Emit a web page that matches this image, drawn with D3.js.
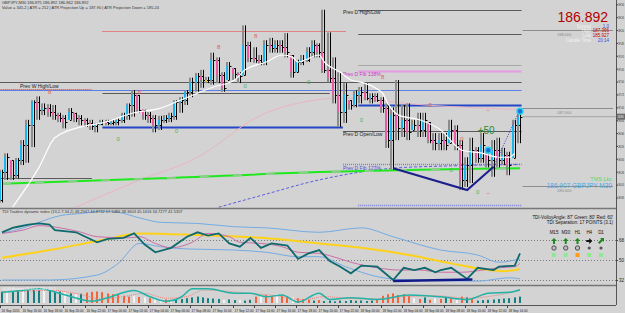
<!DOCTYPE html>
<html>
<head>
<meta charset="utf-8">
<script src="https://cdn.jsdelivr.net/npm/d3@7"></script>
<style>
  body { margin: 0; background: #d3d3d3; }
  svg { display: block; font-family: "Liberation Sans", Arial, sans-serif; }
</style>
</head>
<body>
<svg id="chart" width="625" height="313"></svg>
<script>
// GBPJPY M30 bars, 16 Sep 14:00 -> 18 Sep 15:00
const barHigh = [186.21,186.42,186.33,186.36,186.59,186.85,187.10,187.15,187.06,187.05,
  187.04,186.94,186.91,187.00,186.94,186.91,186.87,186.85,186.81,186.85,
  186.85,186.85,186.87,186.94,187.06,187.23,187.17,186.98,186.95,186.91,
  186.90,186.91,186.94,187.10,187.14,187.23,187.39,187.45,187.49,187.40,
  187.71,187.65,187.46,187.59,187.51,187.46,188.06,187.85,187.78,187.68,
  187.87,187.90,187.87,187.87,187.96,187.68,187.62,187.68,187.78,187.87,
  187.83,188.26,187.97,187.65,187.46,187.32,187.10,187.23,187.27,187.32,
  187.19,187.19,187.14,187.06,187.01,187.36,187.04,187.06,186.85,186.94,
  186.94,186.82,186.68,186.68,186.68,186.85,186.78,186.59,186.37,186.62,
  186.50,186.68,186.49,186.59,186.62,186.49,186.44,186.85,186.98];
const barLow = [185.79,186.08,186.08,186.10,186.27,186.30,186.50,186.85,186.91,186.89,
  186.85,186.82,186.74,186.85,186.82,186.78,186.76,186.72,186.69,186.78,
  186.78,186.78,186.78,186.81,186.85,186.89,186.94,186.85,186.81,186.69,
  186.72,186.81,186.82,186.85,186.94,187.04,187.14,187.21,187.26,187.32,
  187.30,187.32,187.21,187.36,187.36,187.32,187.42,187.59,187.58,187.55,
  187.55,187.71,187.71,187.71,187.65,187.39,187.46,187.55,187.59,187.65,
  187.65,187.45,187.33,187.06,186.76,186.81,186.98,187.01,187.06,187.10,
  187.06,187.08,186.94,186.49,186.21,186.59,186.63,186.59,186.72,186.63,
  186.63,186.55,186.46,186.46,186.46,186.55,186.46,185.95,185.99,186.04,
  186.30,186.30,186.24,186.12,186.24,186.27,186.14,186.36,186.55];
const barOpen = [185.82,186.18,186.33,186.14,186.33,186.53,186.78,187.08,186.98,187.00,
  186.95,186.91,186.87,186.85,186.94,186.87,186.85,186.81,186.77,186.79,
  186.82,186.81,186.82,186.85,186.91,187.04,187.17,186.98,186.91,186.87,
  186.78,186.85,186.87,186.90,187.08,187.10,187.21,187.33,187.41,187.36,
  187.36,187.62,187.42,187.36,187.51,187.44,187.42,187.81,187.64,187.62,
  187.59,187.81,187.77,187.81,187.78,187.68,187.46,187.59,187.62,187.72,
  187.81,187.72,187.49,187.39,187.17,186.95,187.10,187.04,187.17,187.21,
  187.13,187.15,187.10,187.00,186.59,186.91,186.74,186.85,186.72,186.78,
  186.72,186.82,186.59,186.55,186.59,186.55,186.72,186.53,186.08,186.27,
  186.46,186.36,186.49,186.33,186.46,186.33,186.40,186.36,186.78];
const barClose = [186.18,186.37,186.14,186.33,186.53,186.78,187.08,186.98,187.00,186.95,
  186.91,186.87,186.82,186.95,186.87,186.85,186.81,186.77,186.79,186.82,
  186.81,186.82,186.85,186.91,187.04,187.17,186.98,186.91,186.87,186.78,
  186.85,186.87,186.90,187.08,187.10,187.21,187.33,187.41,187.36,187.36,
  187.62,187.42,187.26,187.54,187.44,187.41,187.81,187.64,187.62,187.59,
  187.81,187.77,187.81,187.78,187.72,187.46,187.59,187.62,187.72,187.81,
  187.72,187.49,187.39,187.17,186.95,187.17,187.04,187.17,187.21,187.13,
  187.15,187.10,187.00,186.59,186.91,186.74,186.85,186.69,186.78,186.72,
  186.85,186.59,186.55,186.59,186.53,186.72,186.53,186.08,186.27,186.46,
  186.36,186.53,186.33,186.46,186.33,186.40,186.27,186.78,186.89];

const timeLabels = ["16 Sep 2015","16 Sep 16:00","16 Sep 18:00","16 Sep 20:00","16 Sep 22:00",
  "17 Sep 00:00","17 Sep 02:00","17 Sep 04:00","17 Sep 06:00","17 Sep 08:00","17 Sep 10:00",
  "17 Sep 12:00","17 Sep 14:00","17 Sep 16:00","17 Sep 18:00","17 Sep 20:00","17 Sep 22:00",
  "18 Sep 00:00","18 Sep 02:00","18 Sep 04:00","18 Sep 06:00","18 Sep 08:00","18 Sep 10:00",
  "18 Sep 12:00","18 Sep 14:00"];
const priceTicks = [188.330,188.165,188.000,187.835,187.670,187.505,187.340,187.175,
  187.010,186.845,186.680,186.515,186.350,186.185,186.020,185.855];

// moving averages on the price pane: [bar index, price]
const whiteMa = [[2,185.73],[7,186.24],[10,186.62],[15,186.76],[19,186.81],[25,186.94],[30,187.00],
  [33,187.08],[40,187.27],[44,187.36],[46,187.49],[50,187.59],[53,187.68],[55,187.65],[56,187.59],
  [60,187.68],[61,187.59],[64,187.46],[66,187.36],[68,187.33],[72,187.19],[73,187.06],[75,186.91],
  [79,186.85],[83,186.72],[87,186.46],[91,186.42],[94,186.37],[96,186.37],[97,186.42]];
const greenMa = [[0,186.03],[30,186.10],[60,186.18],[79,186.21],[98,186.23]];
const pinkMa = [[14,185.73],[25,186.05],[37,186.37],[49,186.91],[59,187.10],[64,187.13],[80,187.04],[98,186.98]];
const blueMa = [[41,185.73],[49,185.88],[60,186.08],[74,186.23],[85,186.26],[98,186.28]];
const trendLine = [[74,186.23],[88,185.95],[93,186.25]];
const trendProjection = [[93,186.25],[98,186.98]];

// support / resistance levels
const levelPrice = [188.26,187.99,187.95,187.55,187.48,187.33,187.24,187.23,187.19,187.04,186.76,186.71,186.28,186.10,185.76];
const levelFrom = [67.4,19,67.4,67.4,67.4,-0.5,-0.5,-0.5,19,67.4,19,64.5,64.5,-0.5,67.4];
const levelTo = [98.3,65,98.3,98.3,98.3,98.3,17,98.3,62,98.3,64.5,98.3,98.3,17,98.3];
const levelKind = ["dgray","reddot","dgray","lgray","fib","dgray","reddot","blue","dgray","bluethick","bluethick","dgray","fibdot","dgray","fibdot"];
const levelLabels = [["Prev D High/Low",64.5,188.24],["Prev W High/Low",3.4,187.30],["Prev D Fib 138%",64.5,187.45],
  ["Prev D Open/Low",64.5,186.68],["Prev D Fib 127%",64.5,186.25]];
const roundLevels = [188.0,187.0,186.0];

// swing markers: [bar index, price, glyph, colour group]
const swingMarks = [[9,187.21,"8","r"],[26,187.21,"8","r"],[41,187.78,"8","r"],[48,187.92,"8","r"],[72,187.40,"8","r"],
  [81,187.04,"0","r"],[87,186.60,"0","r"],[92,186.98,"–","r"],[92,185.91,"–","r"],
  [22,186.60,"0","g"],[33,186.71,"0","g"],[46,187.28,"0","g"],[58,187.33,"0","g"],[68,186.85,"0","g"],
  [85,186.21,"0","g"],[90,185.92,"0","g"]];

// TDI pane: [bar index, value]
const tdiRsi = [[0,75],[2,79],[3,80],[5,82],[7,83],[9,82],[10,77],[14,75],[18,66],[20,69],[23,70],[25,74],
  [27,64],[29,57],[32,61],[35,71],[37,75],[39,72],[41,74],[43,65],[45,62],[47,70],[49,61],[51,65],[54,63],
  [56,51],[58,56],[60,59],[62,49],[64,44],[66,38],[68,45],[71,44],[74,32],[76,43],[78,41],[80,43],[82,39],
  [83,41],[85,43],[88,33],[90,43],[93,41],[94,44],[97,45],[98,56]];
const tdiSignal = [[0,74],[4,77],[7,81],[11,79],[15,75],[18,71],[24,70],[26,71],[29,65],[32,61],[36,66],
  [39,74],[43,71],[45,66],[49,65],[53,62],[56,57],[60,56],[62,54],[66,48],[71,43],[75,41],[79,41],[83,39],
  [87,39],[91,41],[94,43],[97,44],[98,47]];
const tdiBase = [[0,52],[9,59],[19,68],[26,74],[37,72.5],[49,70],[60,65],[68,61],[77,54.5],[85,47],[92,41],[95,40],[98,42]];
const tdiUpper = [[0,74],[4,79],[7,84],[11,90],[15,92],[19,94],[22,93],[26,88],[30,84],[37,83],[44,80],[50,79],
  [60,75],[68,79],[74,71],[83,59],[90,54.5],[94,48],[97,50],[98,51]];
const tdiLower = [[0,32],[9,32],[18,36.5],[22,47],[26,65],[30,62],[35,60],[44,59],[50,57],[56,53],[60,53],
  [65,44],[71,35],[77,32],[90,31],[96,34],[98,33]];
const tdiDivergence = [[74,31],[89,32.5]];
const tdiLevels = [68,50,32];

const tfNames = ["M15","M30","H1","H4","D1"];
const tfTrend = ["up","up","up","flat","rise"];
const tfSignal = ["ring","ring","ring","dot","dot"];
const tfState = ["green","green","orange","green","green"];

// lower histogram pane
const histVals = [70,75,72,80,78,82,85,80,78,75, 70,72,65,60,55,58, 65,70,72,68,60,55,50,
  45,40,45,38,35,30, 25,20,22,18,20, 25,30,35,40,35,30,28, 25,20,22,18,20,15,20,
  40,45,50,45,55,50,40,35,30,25, 20,15,18,12,15,10, 15,12,18,14,16,12,15,20,
  45,55,60,50,55,45, 30,25,35,20,30,25,35,30,20,40,35,25, 15,18,20,22,25,28,30,35,40];
const histDir = [1,0,1,1,0,1,1,1,0,1, 1,1,0,1,0,1, -1,-1,-1,-1,-1,-1,-1,
  -1,-1,0,-1,0,-1, 0,0,-1,0,1, 1,1,1,1,1,1,1, 1,0,1,1,0,1,1,
  -1,0,-1,-1,0,-1,-1,0,-1,-1, -1,1,-1,1,1,1, 1,1,1,1,1,1,1,-1,
  -1,-1,-1,-1,-1,-1, 0,-1,1,-1,0,-1,1,-1,0,-1,1,-1, 1,1,1,1,1,1,1,1,1];
const histLine = [[0,67],[4,78],[7,89],[12,50],[17,11],[20,33],[25,78],[28,39],[31,11],[34,39],[36,89],
  [39,89],[44,61],[47,61],[50,39],[53,50],[56,6],[60,61],[62,22],[66,33],[71,22],[77,50],[83,39],[88,22],
  [92,61],[96,67],[98,83]];
const histSignal = [[0,70],[5,75],[9,80],[14,60],[19,25],[23,40],[27,60],[31,30],[35,40],[38,80],[42,75],
  [47,60],[52,45],[57,20],[61,40],[65,30],[70,25],[76,40],[82,45],[88,30],[93,45],[97,70],[98,78]];

class TradingChart {
    constructor(_config) {
        this.config = {
            parentElement: _config.parentElement,
            axisX: 616,
            mainBottom: 208,
            tdiTop: 209, tdiBottom: 285,
            histTop: 287, histBottom: 303,
            timeY: 305
        };
        this.initVis();
    }

    initVis() {
        let vis = this;
        vis.svg = d3.select(vis.config.parentElement);

        vis.x = d3.scaleLinear().domain([0, barHigh.length - 1]).range([2, 520]);
        vis.yPrice = d3.scaleLinear().domain([185.72, 188.385]).range([vis.config.mainBottom, 0]);
        vis.yTdi = d3.scaleLinear().domain([27.5, 96]).range([vis.config.tdiBottom, vis.config.tdiTop]);
        vis.yHist = d3.scaleLinear().domain([0, 100]).range([vis.config.histBottom, vis.config.histTop]);

        vis.bars = barHigh.map((h, i) => ({ i, h, l: barLow[i], o: barOpen[i], c: barClose[i] }));

        vis.renderMain();
        vis.renderTdi();
        vis.renderHist();
        vis.renderAxes();
        vis.renderInfo();
    }

    renderMain() {
        let vis = this;
        const x = vis.x, y = vis.yPrice;
        const g = vis.svg.append('g');

        // levels
        const levelStyle = {
            dgray: { stroke: '#5a5a5a', w: 1, dash: null },
            lgray: { stroke: '#a8a8a8', w: 1, dash: null },
            reddot: { stroke: '#e03a3a', w: 1, dash: '1,1' },
            blue: { stroke: '#5b7fe6', w: 1, dash: null },
            bluethick: { stroke: '#2447c8', w: 2, dash: null },
            fib: { stroke: '#e49be4', w: 2, dash: null },
            fibdot: { stroke: '#7a7ae6', w: 1.5, dash: '1,1' }
        };
        g.selectAll('line.level')
            .data(levelPrice)
            .join('line')
            .attr('class', 'level')
            .attr('x1', (d, i) => x(levelFrom[i]))
            .attr('x2', (d, i) => x(levelTo[i]))
            .attr('y1', d => Math.round(y(d)) + 0.5)
            .attr('y2', d => Math.round(y(d)) + 0.5)
            .attr('stroke', (d, i) => levelStyle[levelKind[i]].stroke)
            .attr('stroke-width', (d, i) => levelStyle[levelKind[i]].w)
            .attr('stroke-dasharray', (d, i) => levelStyle[levelKind[i]].dash);

        g.selectAll('text.lvl')
            .data(levelLabels)
            .join('text')
            .attr('x', d => x(d[1]))
            .attr('y', d => y(d[2]) + 3)
            .attr('font-size', 5)
            .attr('fill', d => d[0].includes('138') ? '#cc33cc' : (d[0].includes('127') ? '#4a4ad8' : '#222'))
            .text(d => d[0]);

        // round number lines at the right
        g.selectAll('line.round')
            .data(roundLevels)
            .join('line')
            .attr('x1', x(98.5)).attr('x2', vis.config.axisX - 3)
            .attr('y1', d => Math.round(y(d)) + 0.5).attr('y2', d => Math.round(y(d)) + 0.5)
            .attr('stroke', '#8c8c8c');
        g.selectAll('text.round')
            .data(roundLevels)
            .join('text')
            .attr('x', 557).attr('y', d => y(d) + 6)
            .attr('font-size', 4).attr('fill', '#8a8a8a')
            .text(d => d3.format('.3f')(d));

        // moving averages
        const line = d3.line().x(d => x(d[0])).y(d => y(d[1])).curve(d3.curveMonotoneX);
        g.append('path').attr('d', line(pinkMa)).attr('fill', 'none').attr('stroke', '#eab4c4').attr('stroke-width', 1);
        g.append('path').attr('d', line(blueMa)).attr('fill', 'none').attr('stroke', '#5d5de0')
            .attr('stroke-width', 1).attr('stroke-dasharray', '3,2');
        g.append('path').attr('d', line(greenMa)).attr('fill', 'none').attr('stroke', '#1fe81f').attr('stroke-width', 2);
        g.append('path').attr('d', line(greenMa)).attr('fill', 'none').attr('stroke', '#8ccf8c')
            .attr('stroke-width', 2).attr('stroke-dasharray', '9,24');

        // bars
        const bar = g.selectAll('g.bar')
            .data(vis.bars)
            .join('g')
            .attr('transform', d => `translate(${Math.round(x(d.i))},0)`);
        bar.append('rect')
            .attr('x', -3).attr('width', 2)
            .attr('y', d => y(d.h)).attr('height', d => y(d.l) - y(d.h))
            .attr('fill', '#8c8c8c');
        bar.append('rect')
            .attr('x', -3).attr('width', 2)
            .attr('y', d => y(Math.max(d.o, d.c)))
            .attr('height', d => Math.max(1.5, Math.abs(y(d.o) - y(d.c))))
            .attr('fill', d => d.c > d.o ? '#1db4ee' : (d.c < d.o ? '#ec5aa6' : '#f0e21c'));
        bar.append('line')
            .attr('x1', 0.5).attr('x2', 0.5)
            .attr('y1', d => y(d.h)).attr('y2', d => y(d.l))
            .attr('stroke', '#000');
        bar.append('line')
            .attr('x1', -1).attr('x2', 0.5)
            .attr('y1', d => Math.round(y(d.o)) + 0.5).attr('y2', d => Math.round(y(d.o)) + 0.5)
            .attr('stroke', '#000');
        bar.append('line')
            .attr('x1', 0.5).attr('x2', 2.5)
            .attr('y1', d => Math.round(y(d.c)) + 0.5).attr('y2', d => Math.round(y(d.c)) + 0.5)
            .attr('stroke', '#000');

        g.append('path').attr('d', line(whiteMa)).attr('fill', 'none').attr('stroke', '#ffffff').attr('stroke-width', 1.2);

        // trend line and projection
        const straight = d3.line().x(d => x(d[0])).y(d => y(d[1]));
        g.append('path').attr('d', straight(trendLine)).attr('fill', 'none').attr('stroke', '#1a1f8c').attr('stroke-width', 2);
        g.append('path').attr('d', straight(trendProjection)).attr('fill', 'none').attr('stroke', '#3b3bd8')
            .attr('stroke-width', 1).attr('stroke-dasharray', '1,1.5');
        g.selectAll('circle.pivot')
            .data([[92, 186.46], [98, 186.96]])
            .join('circle')
            .attr('cx', d => x(d[0])).attr('cy', d => y(d[1])).attr('r', 3)
            .attr('fill', '#1d6fd8').attr('stroke', '#27d3f0').attr('stroke-width', 1.5);

        // swing markers
        g.selectAll('text.mark')
            .data(swingMarks)
            .join('text')
            .attr('x', d => x(d[0])).attr('y', d => y(d[1]) + 2)
            .attr('text-anchor', 'middle').attr('font-size', 6)
            .attr('fill', d => d[3] === 'r' ? '#e05a5a' : '#55b055')
            .text(d => d[2]);

        g.append('text').attr('x', x(90)).attr('y', y(186.71) + 3)
            .attr('font-size', 10).attr('fill', '#2a8a2a').text('+50');
        g.append('text').attr('x', 612).attr('y', y(186.08) + 1.5).attr('text-anchor', 'end')
            .attr('font-size', 5.5).attr('fill', '#5fd35f').text('TMS Lkc');
        g.append('text').attr('x', 612).attr('y', y(185.99) + 1.5).attr('text-anchor', 'end')
            .attr('font-size', 6.5).attr('fill', '#4aa8e8').text('186.907 GBPJPY M30');
    }

    renderTdi() {
        let vis = this;
        const x = vis.x, y = vis.yTdi;
        const g = vis.svg.append('g');

        g.selectAll('line.tdilvl')
            .data(tdiLevels)
            .join('line')
            .attr('x1', 0).attr('x2', vis.config.axisX)
            .attr('y1', d => Math.round(y(d)) + 0.5).attr('y2', d => Math.round(y(d)) + 0.5)
            .attr('stroke', '#7a7a7a').attr('stroke-dasharray', '1,2');

        const line = d3.line().x(d => x(d[0])).y(d => y(d[1]));
        const smooth = d3.line().x(d => x(d[0])).y(d => y(d[1])).curve(d3.curveMonotoneX);
        g.append('path').attr('d', smooth(tdiUpper)).attr('fill', 'none').attr('stroke', '#74abe4').attr('stroke-width', 1);
        g.append('path').attr('d', smooth(tdiLower)).attr('fill', 'none').attr('stroke', '#74abe4').attr('stroke-width', 1);
        g.append('path').attr('d', smooth(tdiBase)).attr('fill', 'none').attr('stroke', '#ffd21a').attr('stroke-width', 2);
        g.append('path').attr('d', smooth(tdiSignal)).attr('fill', 'none').attr('stroke', '#cc6fa8').attr('stroke-width', 1);
        g.append('path').attr('d', line(tdiRsi)).attr('fill', 'none').attr('stroke', '#0f6a6e').attr('stroke-width', 1.8);
        g.append('path').attr('d', line(tdiDivergence)).attr('fill', 'none').attr('stroke', '#121a8a').attr('stroke-width', 2.5);

        g.append('text').attr('x', 2).attr('y', vis.config.tdiTop + 4)
            .attr('font-size', 4).attr('fill', '#333')
            .text('TDI Traders dynamic index (13,2,7,34,2) 48.2947 44.8732 57.5486 38.3603 45.1616 34.7277 41.5357');

        // multi timeframe table
        g.append('text').attr('x', 613).attr('y', 219).attr('text-anchor', 'end')
            .attr('font-size', 4.5).attr('fill', '#111').text("TDI-VolloyAngle: 87' Green: 80' Red: 60'");
        g.append('text').attr('x', 613).attr('y', 224).attr('text-anchor', 'end')
            .attr('font-size', 4.5).attr('fill', '#111').text('TDI Separation: 17 POINTS (3.1)');
        const colX = d3.scalePoint().domain(tfNames).range([554, 601]);
        const cell = g.selectAll('g.tf')
            .data(tfNames)
            .join('g')
            .attr('transform', d => `translate(${colX(d)},0)`);
        cell.append('text').attr('y', 234).attr('text-anchor', 'middle')
            .attr('font-size', 4.5).attr('fill', '#111').text(d => d);
        const arrowPath = {
            up: 'M0,-3 L3,0 L1,0 L1,3 L-1,3 L-1,0 L-3,0 Z',
            flat: 'M3,0 L0,-3 L0,-1 L-3,-1 L-3,1 L0,1 L0,3 Z',
            rise: 'M3,-3 L3,1 L1.8,-0.2 L-1.5,3 L-3,1.5 L0.2,-1.8 L-1,-3 Z'
        };
        cell.append('path')
            .attr('transform', 'translate(0,241)')
            .attr('d', (d, i) => arrowPath[tfTrend[i]])
            .attr('fill', (d, i) => tfTrend[i] === 'flat' ? '#111' : '#1d8a1d');
        cell.append('circle')
            .attr('cy', 248).attr('r', (d, i) => tfSignal[i] === 'ring' ? 2.2 : 1.6)
            .attr('fill', (d, i) => tfSignal[i] === 'ring' ? '#bdbdbd' : '#555')
            .attr('stroke', (d, i) => tfSignal[i] === 'ring' ? '#333' : 'none').attr('stroke-width', 0.8);
        cell.append('rect')
            .attr('x', -2).attr('y', 253).attr('width', 4).attr('height', 4)
            .attr('fill', (d, i) => tfState[i] === 'orange' ? '#ff9a1a' : '#8fea8f');
    }

    renderHist() {
        let vis = this;
        const x = vis.x, y = vis.yHist;
        const g = vis.svg.append('g');

        g.selectAll('rect.hist')
            .data(histVals)
            .join('rect')
            .attr('x', (d, i) => Math.round(x(i)) - 1)
            .attr('width', 2)
            .attr('y', d => y(d))
            .attr('height', d => y(0) - y(d))
            .attr('fill', (d, i) => histDir[i] > 0 ? '#167f7f' : (histDir[i] < 0 ? '#f4643c' : '#f4f4f4'));

        const smooth = d3.line().x(d => x(d[0])).y(d => y(d[1])).curve(d3.curveMonotoneX);
        g.append('path').attr('d', smooth(histSignal)).attr('fill', 'none').attr('stroke', '#f08080')
            .attr('stroke-width', 1).attr('stroke-dasharray', '1,1');
        g.append('path').attr('d', smooth(histLine)).attr('fill', 'none').attr('stroke', '#22b3a6').attr('stroke-width', 1.5);

        g.append('text').attr('x', 2).attr('y', vis.config.histTop + 3)
            .attr('font-size', 4).attr('fill', '#f4f4f4').text('QQE Arrows (5,14,4.236) 16.1');
    }

    renderAxes() {
        let vis = this;
        const c = vis.config;
        const g = vis.svg.append('g');

        // pane separators
        [c.mainBottom, c.tdiBottom].forEach(yy => {
            g.append('line').attr('x1', 0).attr('x2', c.axisX).attr('y1', yy + 0.5).attr('y2', yy + 0.5)
                .attr('stroke', '#777').attr('stroke-width', 1.5);
        });
        g.append('line').attr('x1', 0).attr('x2', c.axisX).attr('y1', c.timeY + 0.5).attr('y2', c.timeY + 0.5)
            .attr('stroke', '#555');
        g.append('line').attr('x1', c.axisX + 0.5).attr('x2', c.axisX + 0.5).attr('y1', 0).attr('y2', c.timeY)
            .attr('stroke', '#555');

        // price axis: the strip right of the axis is narrow, so labels are squeezed sideways to fit it
        const squeeze = 0.4;
        const priceAxis = d3.axisRight(vis.yPrice).tickValues(priceTicks).tickFormat(d3.format('.3f')).tickSize(2);
        g.append('g').attr('transform', `translate(${c.axisX},0)`).call(priceAxis)
            .call(a => a.select('.domain').remove())
            .call(a => a.selectAll('text').attr('font-size', 4.2).attr('fill', '#222')
                .attr('x', 2 / squeeze).attr('transform', `scale(${squeeze},1)`))
            .call(a => a.selectAll('line').attr('stroke', '#444'));

        // current price marker
        const yNow = vis.yPrice(barClose[barClose.length - 1]);
        g.append('line').attr('x1', vis.x(98) + 3).attr('x2', c.axisX).attr('y1', yNow).attr('y2', yNow)
            .attr('stroke', '#999').attr('stroke-width', 0.8);
        g.append('rect').attr('x', c.axisX + 1).attr('y', yNow - 3).attr('width', 8).attr('height', 6).attr('fill', '#6b6b6b');
        g.append('text')
            .attr('transform', `translate(${c.axisX + 1.6},${yNow + 1.6}) scale(${squeeze},1)`)
            .attr('font-size', 4.2).attr('fill', '#fff')
            .text(d3.format('.3f')(barClose[barClose.length - 1]));

        // TDI axis
        const tdiAxis = d3.axisRight(vis.yTdi).tickValues(tdiLevels).tickSize(2);
        g.append('g').attr('transform', `translate(${c.axisX},0)`).call(tdiAxis)
            .call(a => a.select('.domain').remove())
            .call(a => a.selectAll('text').attr('font-size', 4.5).attr('fill', '#222').attr('x', 3))
            .call(a => a.selectAll('line').attr('stroke', '#444'));

        // time axis, one label every 4 bars
        const t = g.selectAll('g.tlabel')
            .data(timeLabels)
            .join('g')
            .attr('transform', (d, i) => `translate(${Math.round(vis.x(i * 4)) - 2},${c.timeY})`);
        t.append('line').attr('x1', 0.5).attr('x2', 0.5).attr('y1', 0).attr('y2', 3).attr('stroke', '#444');
        t.append('text').attr('x', 1.5).attr('y', 6.5).attr('font-size', 3.2).attr('fill', '#222').text(d => d);
    }

    renderInfo() {
        let vis = this;
        const g = vis.svg.append('g');

        g.append('text').attr('x', 2).attr('y', 4).attr('font-size', 4).attr('fill', '#333')
            .text('GBPJPY,M30 186.875 186.892 186.862 186.892');
        g.append('text').attr('x', 2).attr('y', 9).attr('font-size', 4).attr('fill', '#333')
            .text('Value = 345.2  |  ATR = 252  |  ATR Projection Up = 187.90  |  ATR Projection Down = 185.24');

        g.append('text').attr('x', 608).attr('y', 22).attr('text-anchor', 'end')
            .attr('font-size', 14).attr('fill', '#b40000').text('186.892');
        const rows = [['Spread', '1.0', '#3350e0'], ['High', '187.366', '#c00000'], ['Low', '185.927', '#c00000'], ['Candle Time', '20:14', '#3350e0']];
        const r = g.selectAll('g.info').data(rows).join('g')
            .attr('transform', (d, i) => `translate(0,${27.5 + i * 4.8})`);
        r.append('text').attr('x', 591).attr('text-anchor', 'end').attr('font-size', 4.5).attr('fill', '#f2f2f2').text(d => d[0]);
        r.append('text').attr('x', 609).attr('text-anchor', 'end').attr('font-size', 4.5).attr('fill', d => d[2]).text(d => d[1]);
    }
}

new TradingChart({ parentElement: '#chart' });
</script>
</body>
</html>
